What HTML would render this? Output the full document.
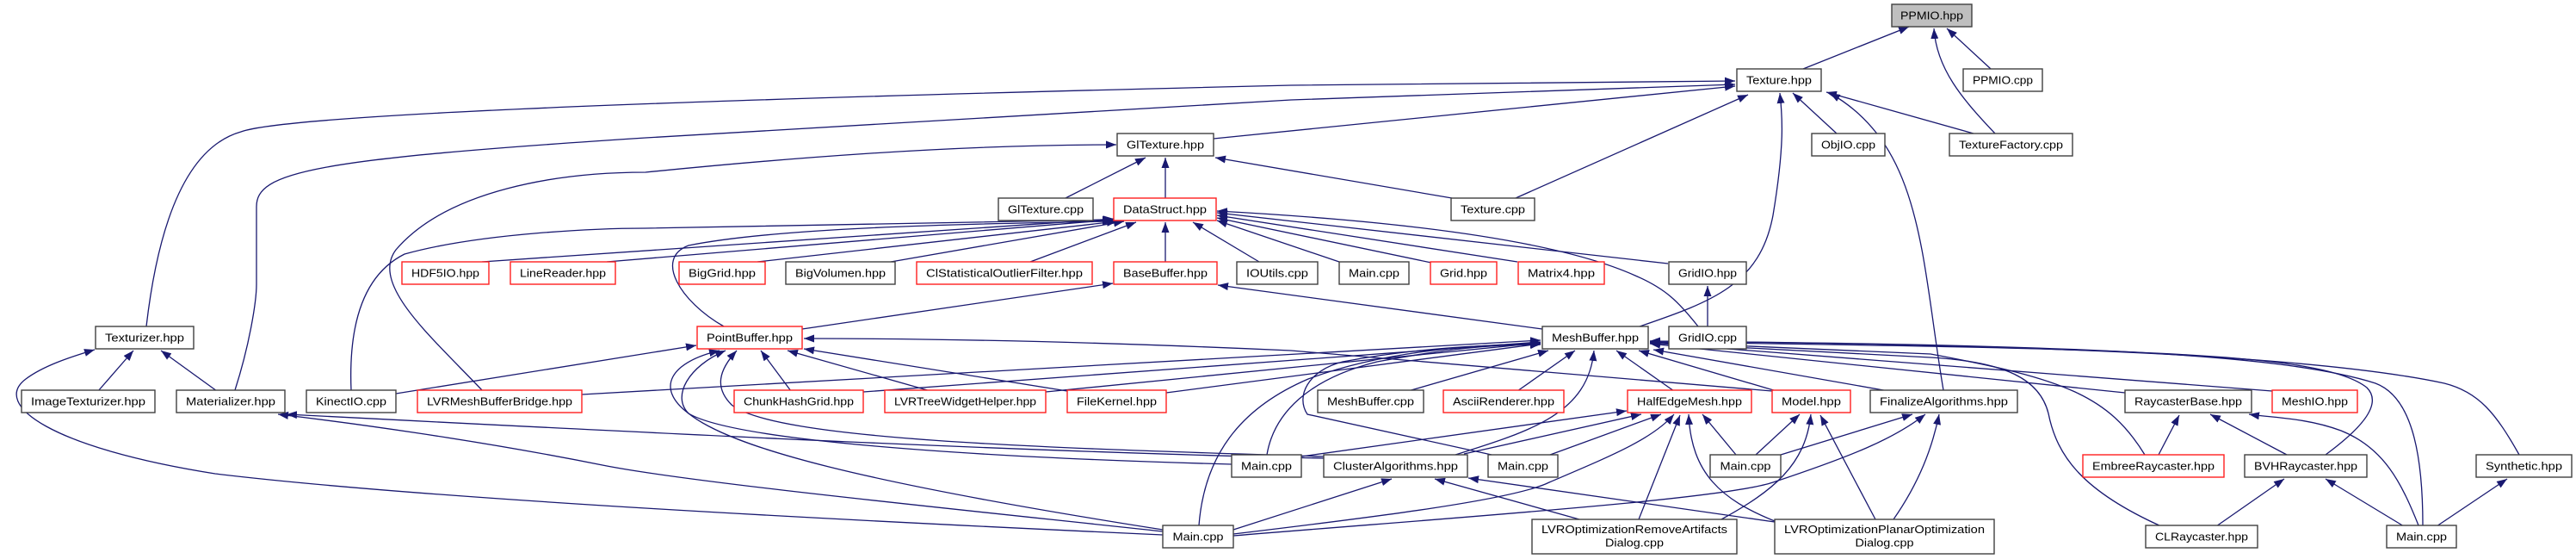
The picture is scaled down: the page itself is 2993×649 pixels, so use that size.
<!DOCTYPE html>
<html><head><meta charset="utf-8"><style>
html,body{margin:0;padding:0;background:#fff;}
svg{display:block;}
text{font-family:"Liberation Sans",sans-serif;font-size:13px;fill:#000;}
.e{fill:none;stroke:#191970;stroke-width:1.3;marker-end:url(#a);}
.n{fill:#fff;stroke:#404040;stroke-width:1.4;}
.r{fill:#fff;stroke:#ff2020;stroke-width:1.4;}
</style></head><body>
<svg width="2993" height="649" viewBox="0 0 2993 649" xmlns="http://www.w3.org/2000/svg">
<defs><marker id="a" markerUnits="userSpaceOnUse" markerWidth="12" markerHeight="9" refX="12" refY="4.5" orient="auto"><path d="M0,0 L12,4.5 L0,9 z" fill="#191970"/></marker></defs>
<g>
<path class="e" d="M2095,80 L2218,31"/>
<path class="e" d="M2313,80 L2262,33"/>
<path class="e" d="M2318,155 C2280,115 2250,80 2247,33"/>
<path class="e" d="M2293,155 L2122,107"/>
<path class="e" d="M2258,453 C2232,300 2235,170 2126,108"/>
<path class="e" d="M2134,155 L2083,108"/>
<path class="e" d="M1905,379 C1990,350 2045,330 2060,250 C2075,160 2070,130 2068,108"/>
<path class="e" d="M1761,230 L2031,110"/>
<path class="e" d="M1410,161 L2016,100"/>
<path class="e" d="M170,379 C185,250 220,170 280,153 C330,135 700,118 1500,99 L2016,94"/>
<path class="e" d="M273,453 C290,400 298,350 298,330 L298,240 C298,200 360,185 750,160 L1500,116 L2016,98"/>
<path class="e" d="M560,453 C500,390 430,330 460,290 C520,220 650,200 750,200 C900,185 1100,168 1297,168"/>
<path class="e" d="M1238,230 L1331,183"/>
<path class="e" d="M1354,230 L1354,183"/>
<path class="e" d="M1687,230 L1412,183"/>
<path class="e" d="M560,304 L1294,254"/>
<path class="e" d="M705,304 L1294,255"/>
<path class="e" d="M880,304 L1298,257"/>
<path class="e" d="M1035,304 L1306,257"/>
<path class="e" d="M1197,304 L1320,258"/>
<path class="e" d="M1354,304 L1354,258"/>
<path class="e" d="M1463,304 L1386,258"/>
<path class="e" d="M1556,304 L1414,256"/>
<path class="e" d="M1663,305 L1414,253"/>
<path class="e" d="M1763,304 L1414,250"/>
<path class="e" d="M1938,306 L1414,247"/>
<path class="e" d="M1973,379 C1950,350 1935,335 1900,320 C1800,275 1600,255 1414,245"/>
<path class="e" d="M408,453 C405,380 420,320 470,295 C560,270 700,265 750,265 L1293,255"/>
<path class="e" d="M841,379 C790,350 760,300 800,285 C900,265 1100,260 1293,257"/>
<path class="e" d="M1984,379 L1984,332"/>
<path class="e" d="M932,382 L1293,329"/>
<path class="e" d="M1792,382 L1415,331"/>
<path class="e" d="M114,454 L155,407"/>
<path class="e" d="M252,454 L187,407"/>
<path class="e" d="M1351,621 C1000,605 500,580 250,550 C60,520 -10,470 30,440 C50,425 80,415 110,406"/>
<path class="e" d="M1351,617 C1100,590 800,560 700,540 C550,510 400,490 323,481"/>
<path class="e" d="M1538,532 C1200,525 800,505 333,481"/>
<path class="e" d="M460,457 L809,401"/>
<path class="e" d="M919,454 L884,407"/>
<path class="e" d="M1081,454 L915,407"/>
<path class="e" d="M1240,454 L934,405"/>
<path class="e" d="M2059,454 L1500,407 C1300,398 1100,393 934,393"/>
<path class="e" d="M1351,615 C1000,560 850,520 800,480 C760,450 780,420 836,407"/>
<path class="e" d="M1431,539 C1100,530 850,510 800,480 C780,460 800,425 843,407"/>
<path class="e" d="M1538,530 C1200,520 900,510 850,470 C830,450 835,430 856,407"/>
<path class="e" d="M676,458 L1790,395"/>
<path class="e" d="M1003,455 L1790,397"/>
<path class="e" d="M1215,455 L1790,398"/>
<path class="e" d="M1355,456 L1790,399"/>
<path class="e" d="M1636,454 L1799,407"/>
<path class="e" d="M1763,454 L1830,407"/>
<path class="e" d="M1393,610 C1400,520 1450,470 1520,440 C1600,410 1700,400 1790,399"/>
<path class="e" d="M1472,528 C1480,480 1520,440 1600,420 C1680,405 1730,400 1790,400"/>
<path class="e" d="M1733,528 L1519,481 C1505,460 1520,430 1560,420 C1640,405 1720,400 1790,400"/>
<path class="e" d="M1691,528 C1780,500 1845,480 1852,407"/>
<path class="e" d="M1945,454 L1878,407"/>
<path class="e" d="M2064,454 L1904,407"/>
<path class="e" d="M2194,454 L1921,406"/>
<path class="e" d="M2469,456 L1917,399"/>
<path class="e" d="M2640,454 L1917,398"/>
<path class="e" d="M2492,528 C2450,460 2400,440 2243,411 L1917,397"/>
<path class="e" d="M2511,611 C2420,570 2390,530 2380,480 C2370,440 2330,420 2243,415 L1917,398"/>
<path class="e" d="M2702,528 C2740,500 2770,470 2750,450 C2700,410 2500,405 1917,397"/>
<path class="e" d="M2815,610 C2815,520 2800,460 2760,445 C2650,410 2400,400 1917,396"/>
<path class="e" d="M2927,528 C2900,480 2880,455 2840,445 C2700,415 2400,400 1917,396"/>
<path class="e" d="M1512,530 L1890,477"/>
<path class="e" d="M1701,527 L1907,481"/>
<path class="e" d="M1801,528 L1930,481"/>
<path class="e" d="M1433,620 C1600,600 1760,580 1800,560 C1870,530 1920,510 1945,481"/>
<path class="e" d="M1904,603 L1952,482"/>
<path class="e" d="M2062,605 C2000,580 1965,550 1962,481"/>
<path class="e" d="M2017,528 L1978,481"/>
<path class="e" d="M2040,528 L2091,481"/>
<path class="e" d="M2000,603 C2060,570 2098,540 2104,481"/>
<path class="e" d="M2179,603 L2115,482"/>
<path class="e" d="M2069,528 L2222,481"/>
<path class="e" d="M1433,622 C1700,600 2000,580 2060,560 C2150,530 2200,510 2237,481"/>
<path class="e" d="M2200,603 C2230,560 2245,520 2253,481"/>
<path class="e" d="M1433,615 L1617,556"/>
<path class="e" d="M1835,603 L1667,556"/>
<path class="e" d="M2062,606 L1706,555"/>
<path class="e" d="M2508,528 L2532,482"/>
<path class="e" d="M2657,528 L2568,481"/>
<path class="e" d="M2810,610 C2790,560 2770,520 2720,500 C2680,485 2640,485 2613,481"/>
<path class="e" d="M2575,611 L2654,556"/>
<path class="e" d="M2793,611 L2702,556"/>
<path class="e" d="M2831,611 L2913,556"/>
</g>
<g>
<rect x="2198" y="5" width="93" height="26" fill="#bfbfbf" stroke="#404040" stroke-width="1.4"/><text x="2244.5" y="22.5" text-anchor="middle" textLength="73" lengthAdjust="spacingAndGlyphs">PPMIO.hpp</text>
<rect class="n" x="2018" y="80" width="98" height="26"/><text x="2067" y="97.5" text-anchor="middle" textLength="76" lengthAdjust="spacingAndGlyphs">Texture.hpp</text>
<rect class="n" x="2281" y="80" width="92" height="26"/><text x="2327" y="97.5" text-anchor="middle" textLength="70" lengthAdjust="spacingAndGlyphs">PPMIO.cpp</text>
<rect class="n" x="1298" y="155" width="112" height="26"/><text x="1354" y="172.5" text-anchor="middle" textLength="90" lengthAdjust="spacingAndGlyphs">GlTexture.hpp</text>
<rect class="n" x="2105" y="155" width="85" height="26"/><text x="2147.5" y="172.5" text-anchor="middle" textLength="63" lengthAdjust="spacingAndGlyphs">ObjIO.cpp</text>
<rect class="n" x="2265" y="155" width="143" height="26"/><text x="2336.5" y="172.5" text-anchor="middle" textLength="121" lengthAdjust="spacingAndGlyphs">TextureFactory.cpp</text>
<rect class="n" x="1160" y="230" width="110" height="26"/><text x="1215" y="247.5" text-anchor="middle" textLength="88" lengthAdjust="spacingAndGlyphs">GlTexture.cpp</text>
<rect class="r" x="1294" y="230" width="119" height="26"/><text x="1353.5" y="247.5" text-anchor="middle" textLength="97" lengthAdjust="spacingAndGlyphs">DataStruct.hpp</text>
<rect class="n" x="1686" y="230" width="97" height="26"/><text x="1734.5" y="247.5" text-anchor="middle" textLength="75" lengthAdjust="spacingAndGlyphs">Texture.cpp</text>

<rect class="r" x="467" y="304" width="101" height="26"/><text x="517.5" y="321.5" text-anchor="middle" textLength="79" lengthAdjust="spacingAndGlyphs">HDF5IO.hpp</text>
<rect class="r" x="593" y="304" width="122" height="26"/><text x="654" y="321.5" text-anchor="middle" textLength="100" lengthAdjust="spacingAndGlyphs">LineReader.hpp</text>
<rect class="r" x="789" y="304" width="100" height="26"/><text x="839" y="321.5" text-anchor="middle" textLength="78" lengthAdjust="spacingAndGlyphs">BigGrid.hpp</text>
<rect class="n" x="913" y="304" width="127" height="26"/><text x="976.5" y="321.5" text-anchor="middle" textLength="105" lengthAdjust="spacingAndGlyphs">BigVolumen.hpp</text>
<rect class="r" x="1065" y="304" width="204" height="26"/><text x="1167" y="321.5" text-anchor="middle" textLength="182" lengthAdjust="spacingAndGlyphs">ClStatisticalOutlierFilter.hpp</text>
<rect class="r" x="1294" y="304" width="120" height="26"/><text x="1354" y="321.5" text-anchor="middle" textLength="98" lengthAdjust="spacingAndGlyphs">BaseBuffer.hpp</text>
<rect class="n" x="1437" y="304" width="94" height="26"/><text x="1484" y="321.5" text-anchor="middle" textLength="72" lengthAdjust="spacingAndGlyphs">IOUtils.cpp</text>
<rect class="n" x="1556" y="304" width="81" height="26"/><text x="1596.5" y="321.5" text-anchor="middle" textLength="59" lengthAdjust="spacingAndGlyphs">Main.cpp</text>
<rect class="r" x="1662" y="304" width="77" height="26"/><text x="1700.5" y="321.5" text-anchor="middle" textLength="55" lengthAdjust="spacingAndGlyphs">Grid.hpp</text>
<rect class="r" x="1764" y="304" width="100" height="26"/><text x="1814" y="321.5" text-anchor="middle" textLength="78" lengthAdjust="spacingAndGlyphs">Matrix4.hpp</text>
<rect class="n" x="1939" y="304" width="90" height="26"/><text x="1984" y="321.5" text-anchor="middle" textLength="68" lengthAdjust="spacingAndGlyphs">GridIO.hpp</text>

<rect class="n" x="111" y="379" width="114" height="26"/><text x="168" y="396.5" text-anchor="middle" textLength="92" lengthAdjust="spacingAndGlyphs">Texturizer.hpp</text>
<rect class="r" x="810" y="379" width="122" height="26"/><text x="871" y="396.5" text-anchor="middle" textLength="100" lengthAdjust="spacingAndGlyphs">PointBuffer.hpp</text>
<rect class="n" x="1792" y="379" width="123" height="26"/><text x="1853.5" y="396.5" text-anchor="middle" textLength="101" lengthAdjust="spacingAndGlyphs">MeshBuffer.hpp</text>
<rect class="n" x="1939" y="379" width="90" height="26"/><text x="1984" y="396.5" text-anchor="middle" textLength="68" lengthAdjust="spacingAndGlyphs">GridIO.cpp</text>

<rect class="n" x="25" y="453" width="155" height="26"/><text x="102.5" y="470.5" text-anchor="middle" textLength="133" lengthAdjust="spacingAndGlyphs">ImageTexturizer.hpp</text>
<rect class="n" x="205" y="453" width="126" height="26"/><text x="268" y="470.5" text-anchor="middle" textLength="104" lengthAdjust="spacingAndGlyphs">Materializer.hpp</text>
<rect class="n" x="356" y="453" width="104" height="26"/><text x="408" y="470.5" text-anchor="middle" textLength="82" lengthAdjust="spacingAndGlyphs">KinectIO.cpp</text>
<rect class="r" x="485" y="453" width="191" height="26"/><text x="580.5" y="470.5" text-anchor="middle" textLength="169" lengthAdjust="spacingAndGlyphs">LVRMeshBufferBridge.hpp</text>
<rect class="r" x="853" y="453" width="150" height="26"/><text x="928" y="470.5" text-anchor="middle" textLength="128" lengthAdjust="spacingAndGlyphs">ChunkHashGrid.hpp</text>
<rect class="r" x="1028" y="453" width="187" height="26"/><text x="1121.5" y="470.5" text-anchor="middle" textLength="165" lengthAdjust="spacingAndGlyphs">LVRTreeWidgetHelper.hpp</text>
<rect class="r" x="1240" y="453" width="115" height="26"/><text x="1297.5" y="470.5" text-anchor="middle" textLength="93" lengthAdjust="spacingAndGlyphs">FileKernel.hpp</text>
<rect class="n" x="1531" y="453" width="123" height="26"/><text x="1592.5" y="470.5" text-anchor="middle" textLength="101" lengthAdjust="spacingAndGlyphs">MeshBuffer.cpp</text>
<rect class="r" x="1677" y="453" width="140" height="26"/><text x="1747" y="470.5" text-anchor="middle" textLength="118" lengthAdjust="spacingAndGlyphs">AsciiRenderer.hpp</text>
<rect class="r" x="1891" y="453" width="144" height="26"/><text x="1963" y="470.5" text-anchor="middle" textLength="122" lengthAdjust="spacingAndGlyphs">HalfEdgeMesh.hpp</text>
<rect class="r" x="2059" y="453" width="91" height="26"/><text x="2104.5" y="470.5" text-anchor="middle" textLength="69" lengthAdjust="spacingAndGlyphs">Model.hpp</text>
<rect class="n" x="2173" y="453" width="171" height="26"/><text x="2258.5" y="470.5" text-anchor="middle" textLength="149" lengthAdjust="spacingAndGlyphs">FinalizeAlgorithms.hpp</text>
<rect class="n" x="2469" y="453" width="147" height="26"/><text x="2542.5" y="470.5" text-anchor="middle" textLength="125" lengthAdjust="spacingAndGlyphs">RaycasterBase.hpp</text>
<rect class="r" x="2640" y="453" width="99" height="26"/><text x="2689.5" y="470.5" text-anchor="middle" textLength="77" lengthAdjust="spacingAndGlyphs">MeshIO.hpp</text>

<rect class="n" x="1431" y="528" width="81" height="26"/><text x="1471.5" y="545.5" text-anchor="middle" textLength="59" lengthAdjust="spacingAndGlyphs">Main.cpp</text>
<rect class="n" x="1538" y="528" width="167" height="26"/><text x="1621.5" y="545.5" text-anchor="middle" textLength="145" lengthAdjust="spacingAndGlyphs">ClusterAlgorithms.hpp</text>
<rect class="n" x="1729" y="528" width="81" height="26"/><text x="1769.5" y="545.5" text-anchor="middle" textLength="59" lengthAdjust="spacingAndGlyphs">Main.cpp</text>
<rect class="n" x="1987" y="528" width="82" height="26"/><text x="2028" y="545.5" text-anchor="middle" textLength="59" lengthAdjust="spacingAndGlyphs">Main.cpp</text>
<rect class="r" x="2420" y="528" width="164" height="26"/><text x="2502" y="545.5" text-anchor="middle" textLength="142" lengthAdjust="spacingAndGlyphs">EmbreeRaycaster.hpp</text>
<rect class="n" x="2608" y="528" width="142" height="26"/><text x="2679" y="545.5" text-anchor="middle" textLength="120" lengthAdjust="spacingAndGlyphs">BVHRaycaster.hpp</text>
<rect class="n" x="2877" y="528" width="111" height="26"/><text x="2932.5" y="545.5" text-anchor="middle" textLength="89" lengthAdjust="spacingAndGlyphs">Synthetic.hpp</text>

<rect class="n" x="1351" y="610" width="82" height="26"/><text x="1392" y="627.5" text-anchor="middle" textLength="59" lengthAdjust="spacingAndGlyphs">Main.cpp</text>
<rect class="n" x="1780" y="603" width="238" height="40"/><text x="1899" y="619" text-anchor="middle" textLength="216" lengthAdjust="spacingAndGlyphs">LVROptimizationRemoveArtifacts</text><text x="1899" y="634.5" text-anchor="middle" textLength="68" lengthAdjust="spacingAndGlyphs">Dialog.cpp</text>
<rect class="n" x="2062" y="603" width="255" height="40"/><text x="2189.5" y="619" text-anchor="middle" textLength="233" lengthAdjust="spacingAndGlyphs">LVROptimizationPlanarOptimization</text><text x="2189.5" y="634.5" text-anchor="middle" textLength="68" lengthAdjust="spacingAndGlyphs">Dialog.cpp</text>
<rect class="n" x="2493" y="610" width="130" height="26"/><text x="2558" y="627.5" text-anchor="middle" textLength="108" lengthAdjust="spacingAndGlyphs">CLRaycaster.hpp</text>
<rect class="n" x="2773" y="610" width="81" height="26"/><text x="2813.5" y="627.5" text-anchor="middle" textLength="59" lengthAdjust="spacingAndGlyphs">Main.cpp</text>
</g>
</svg>
</body></html>
